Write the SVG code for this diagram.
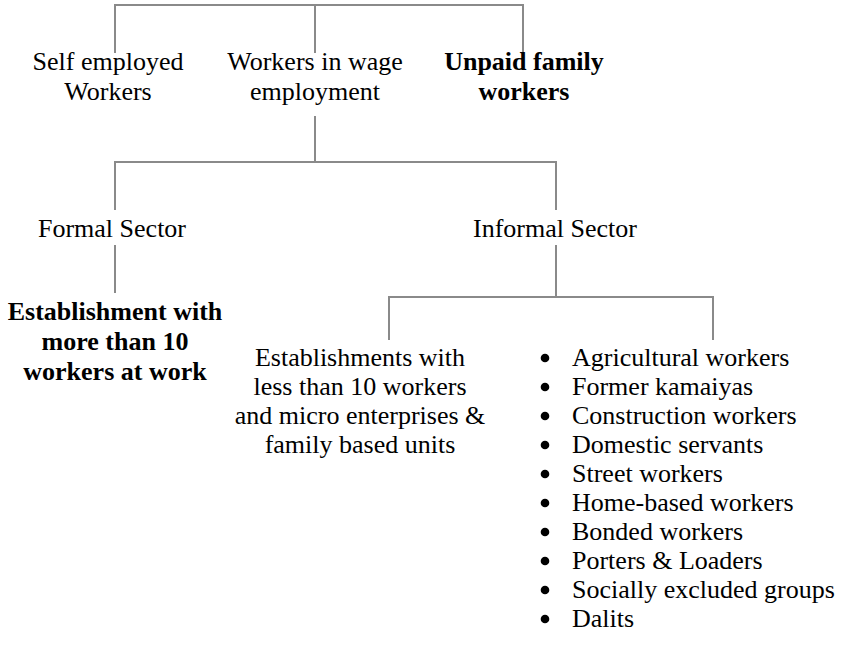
<svg xmlns="http://www.w3.org/2000/svg" width="850" height="664" viewBox="0 0 850 664" font-family="'Liberation Serif', 'DejaVu Serif', serif" font-size="26">
<style>
text{font-family:'Liberation Serif','DejaVu Serif',serif;font-size:26px;fill:#000}
.c{text-anchor:middle}
.b{font-weight:bold}
.ln{fill:none;stroke:#8a8a8a;stroke-width:2}
.dot{fill:#000}
</style>
<rect width="850" height="664" fill="#fff"/>
<g id="connectors">
<path class="ln" d="M115,53 V5 H523 V52"/>
<path class="ln" d="M315,5 V53"/>
<path class="ln" d="M315,116 V162 M115,210 V162 H556 V210"/>
<path class="ln" d="M115,245 V293"/>
<path class="ln" d="M556,245 V297 M389,340 V297 H713 V340"/>
</g>
<g id="self-employed">
<text class="c" x="108" y="70">Self employed</text>
<text class="c" x="108" y="100">Workers</text>
</g>
<g id="wage-employment">
<text class="c" x="315" y="70">Workers in wage</text>
<text class="c" x="315" y="100">employment</text>
</g>
<g id="unpaid-family">
<text class="c b" x="524" y="70">Unpaid family</text>
<text class="c b" x="524" y="100">workers</text>
</g>
<g id="formal-sector">
<text class="c" x="112" y="237">Formal Sector</text>
</g>
<g id="informal-sector">
<text class="c" x="555" y="237">Informal Sector</text>
</g>
<g id="formal-establishment">
<text class="c b" x="115" y="320">Establishment with</text>
<text class="c b" x="115" y="350">more than 10</text>
<text class="c b" x="115" y="380">workers at work</text>
</g>
<g id="informal-establishments">
<text class="c" x="360" y="366">Establishments with</text>
<text class="c" x="360" y="395">less than 10 workers</text>
<text class="c" x="360" y="424">and micro enterprises &amp;</text>
<text class="c" x="360" y="453">family based units</text>
</g>
<g id="informal-list">
<circle class="dot" cx="545" cy="358" r="4.3"/><text x="572" y="366">Agricultural workers</text>
<circle class="dot" cx="545" cy="387" r="4.3"/><text x="572" y="395">Former kamaiyas</text>
<circle class="dot" cx="545" cy="416" r="4.3"/><text x="572" y="424">Construction workers</text>
<circle class="dot" cx="545" cy="445" r="4.3"/><text x="572" y="453">Domestic servants</text>
<circle class="dot" cx="545" cy="474" r="4.3"/><text x="572" y="482">Street workers</text>
<circle class="dot" cx="545" cy="503" r="4.3"/><text x="572" y="511">Home-based workers</text>
<circle class="dot" cx="545" cy="532" r="4.3"/><text x="572" y="540">Bonded workers</text>
<circle class="dot" cx="545" cy="561" r="4.3"/><text x="572" y="569">Porters &amp; Loaders</text>
<circle class="dot" cx="545" cy="590" r="4.3"/><text x="572" y="598">Socially excluded groups</text>
<circle class="dot" cx="545" cy="619" r="4.3"/><text x="572" y="627">Dalits</text>
</g>
</svg>
